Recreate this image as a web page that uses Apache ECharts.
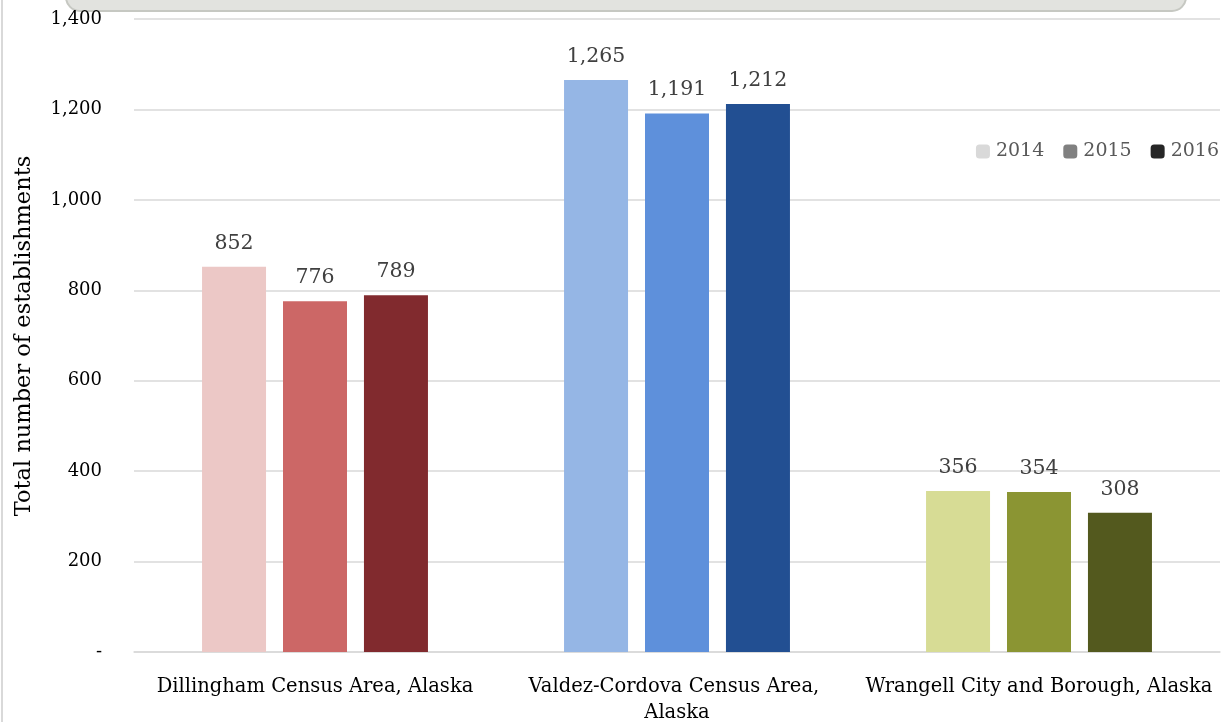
<!DOCTYPE html>
<html><head><meta charset="utf-8">
<script src="https://cdn.jsdelivr.net/npm/echarts@6/dist/echarts.min.js"></script>
<style>html,body{margin:0;padding:0;background:#fff}#c{width:1228px;height:722px}</style>
</head><body><div id="c"></div>
<script>
const categories = ["Dillingham Census Area, Alaska", "Valdez-Cordova Census Area, Alaska", "Wrangell City and Borough, Alaska"];
const years = ["2014", "2015", "2016"];
const v2014 = [852, 1265, 356];
const v2015 = [776, 1191, 354];
const v2016 = [789, 1212, 308];
const legendColors = ["#D9D9D9", "#808080", "#262626"];
const barColors = [
  ["#ECC8C6", "#95B6E5", "#D7DC95"],
  ["#CC6766", "#5E90DB", "#8B9533"],
  ["#812A2E", "#224F92", "#53591E"]
];
const yTitle = "Total number of establishments";

const serif = "DejaVu Serif";
const chart = echarts.init(document.getElementById('c'));
const allVals = [v2014, v2015, v2016];
const fmt = n => n === 0 ? '-' : n.toLocaleString('en-US');
chart.setOption({
  animation: false,
  graphic: [
    {type: 'rect', shape: {x: 66, y: -40, width: 1120, height: 51, r: 14}, style: {fill: '#e2e3df', stroke: '#c6c8c2', lineWidth: 2}},
    {type: 'rect', shape: {x: 1, y: 0, width: 2, height: 722}, style: {fill: '#d9d9d9'}},
    {type: 'text', x: 24, y: 336, rotation: Math.PI / 2,
      style: {text: yTitle, fontFamily: serif, fontSize: 22.5, fill: '#000', align: 'center', verticalAlign: 'middle'}}
  ],
  grid: {left: 134, right: 8, top: 19, bottom: 70, outerBoundsMode: 'none'},
  legend: {
    right: 4, top: 137, itemWidth: 14, itemHeight: 14, itemGap: 19,
    textStyle: {fontFamily: serif, fontSize: 19, color: '#595959', padding: [0,0,0,1]},
    data: years
  },
  xAxis: {
    type: 'category', data: categories,
    axisLine: {lineStyle: {color: '#d9d9d9', width: 1.5}},
    axisTick: {show: false},
    axisLabel: {interval: 0, fontFamily: serif, fontSize: 19.5, color: '#000', margin: 22, width: 350, overflow: 'break', lineHeight: 26}
  },
  yAxis: {
    type: 'value', min: 0, max: 1400, interval: 200,
    axisLine: {show: false}, axisTick: {show: false},
    splitLine: {lineStyle: {color: '#d9d9d9', width: 1.5}},
    axisLabel: {fontFamily: serif, fontSize: 18, color: '#000', margin: 32, formatter: fmt}
  },
  series: years.map((y, i) => ({
    name: y, type: 'bar', barWidth: 64, barGap: '26.5%',
    itemStyle: {color: legendColors[i]},
    data: allVals[i].map((v, j) => ({value: v, itemStyle: {color: barColors[i][j]}})),
    label: {show: true, position: 'top', distance: 13, fontFamily: serif, fontSize: 20.5, color: '#404040', formatter: p => fmt(p.value)}
  }))
});
</script></body></html>
